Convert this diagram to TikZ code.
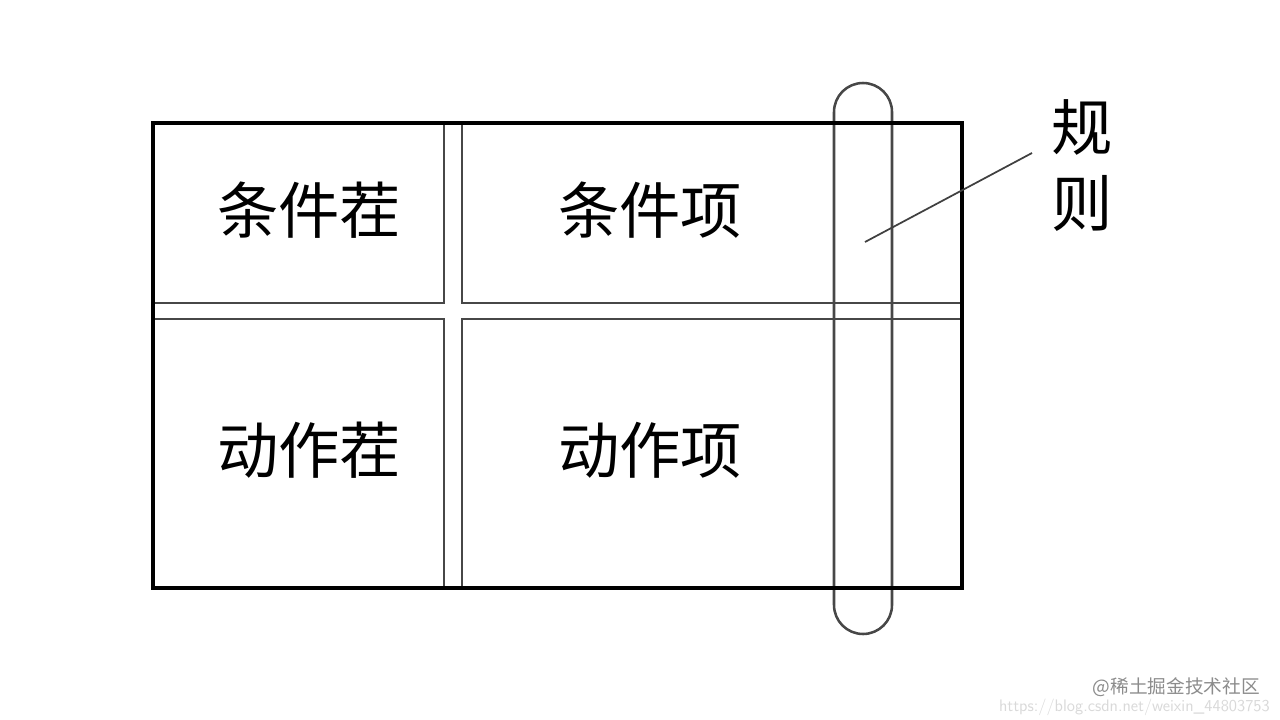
\documentclass[tikz,border=0pt]{standalone}
\usepackage{fontspec}
\newfontfamily\cjk{Noto Sans CJK SC}
\begin{document}
\begin{tikzpicture}[x=0.75pt,y=-0.75pt,
  thinline/.style={draw=black!72, line width=1.9pt},
  thickline/.style={draw=black, line width=3pt},
  celltext/.style={font=\cjk\fontsize{46}{46}\selectfont, inner sep=0pt},
  wm/.style={font=\cjk\fontsize{14}{14}\selectfont, inner sep=0pt, anchor=east}]
\useasboundingbox (0,0) rectangle (1280,720);
\fill[white] (0,0) rectangle (1280,720);
% inner cell borders
\draw[thinline] (444,123) -- (444,303) -- (153,303);
\draw[thinline] (462,123) -- (462,303) -- (962,303);
\draw[thinline] (153,319) -- (444,319) -- (444,588);
\draw[thinline] (962,319) -- (462,319) -- (462,588);
% capsule (rule)
\draw[thinline, rounded corners=21.75pt] (834,83) rectangle (892,634);
% outer frame
\draw[thickline] (153,123) rectangle (962,588);
% texts
\node[celltext] (c1) at (309,210) {条件茬};
\node[celltext] (c2) at (650,210) {条件项};
\node[celltext] (a1) at (309,450) {动作茬};
\node[celltext] (a2) at (650,450) {动作项};
\node[celltext] (r1) at (1082,127) {规};
\node[celltext] (r2) at (1082,203) {则};
\coordinate (p) at (865,242);
\coordinate (q) at (1032,153);
\draw[draw=black!75, line width=1.3pt] (p) -- (q);
% watermark
\node[wm, text=black!45] (w1) at (1260,687) {@稀土掘金技术社区};
\node[wm, text=black!15, font=\sffamily\fontsize{12.5}{12.5}\selectfont] (w2) at (1270,707) {https://blog.csdn.net/weixin\_44803753};
\end{tikzpicture}
\end{document}
